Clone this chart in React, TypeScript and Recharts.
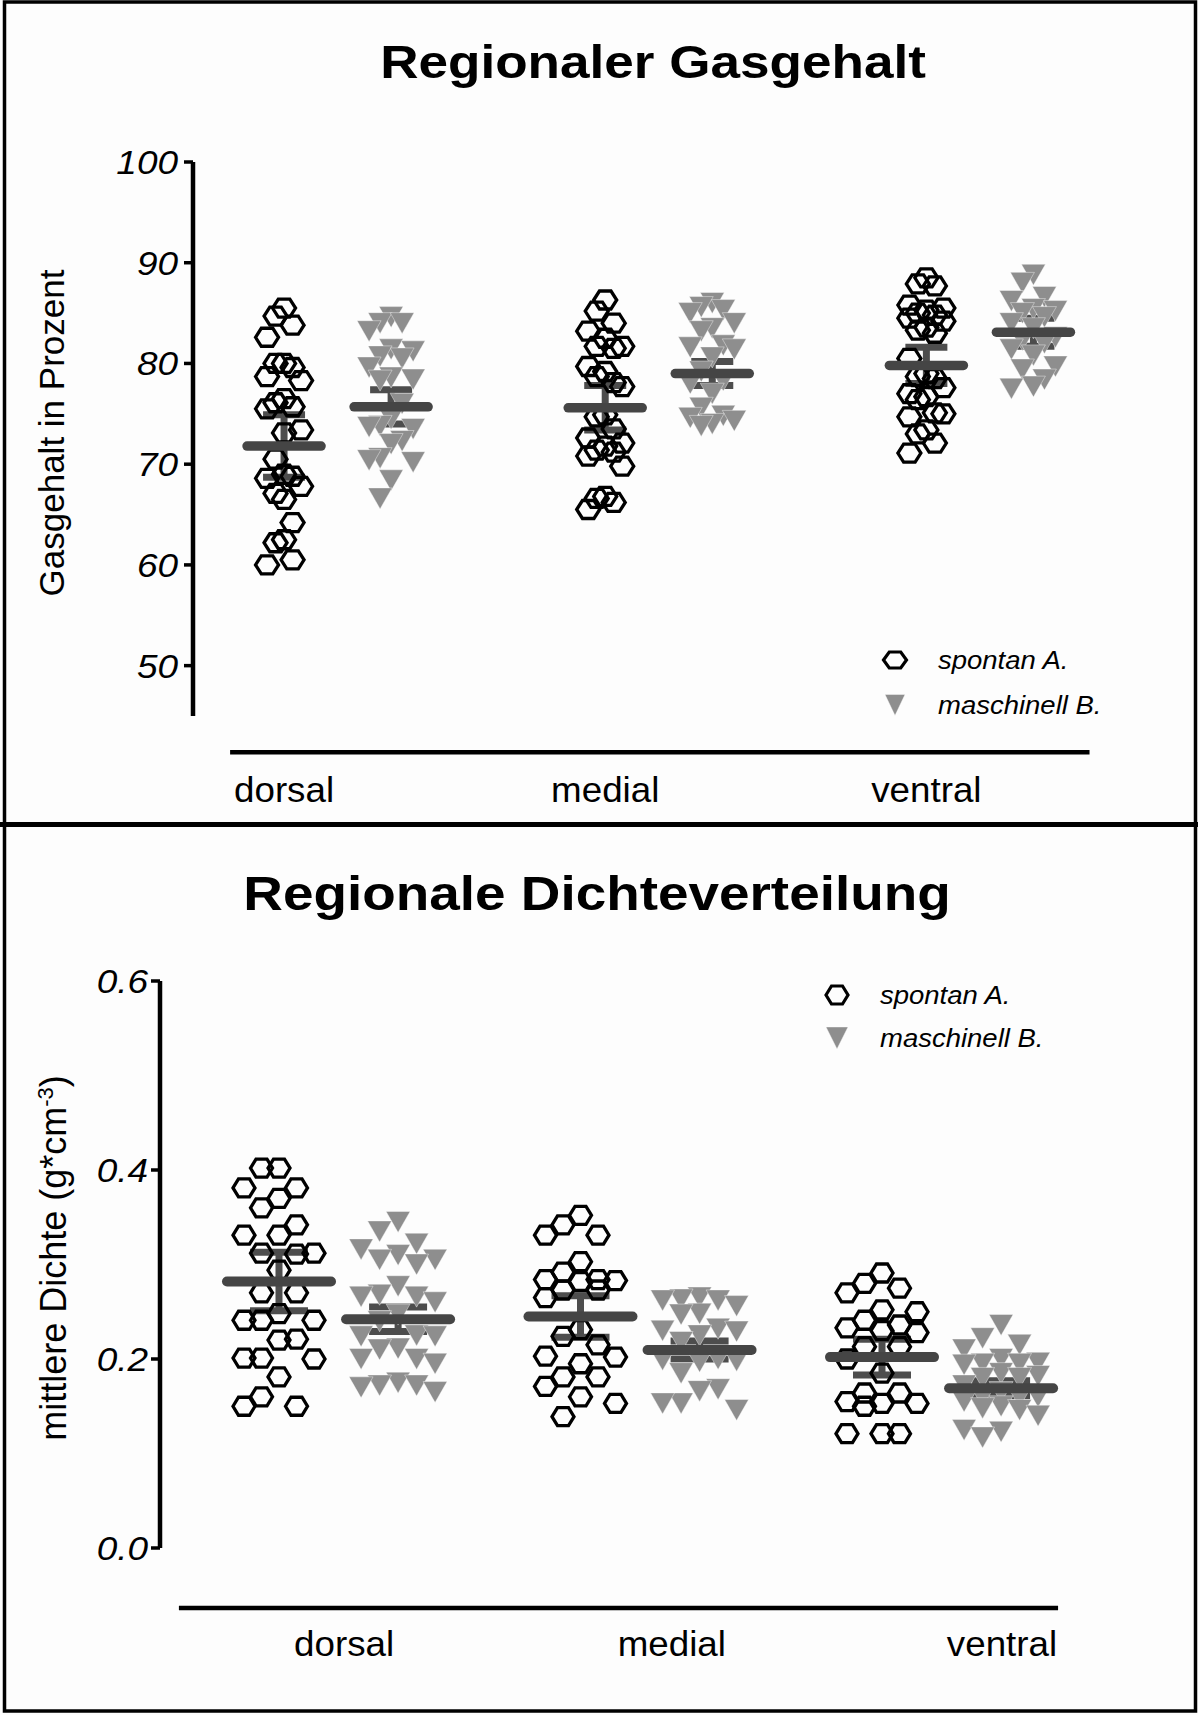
import React from 'react';
import { ScatterChart, Scatter, XAxis, YAxis, ErrorBar, ReferenceLine, Legend } from 'recharts';

const FONT = "'Liberation Sans', Arial, Helvetica, sans-serif";

// ---------------- data ----------------
const regions = ['dorsal', 'medial', 'ventral'];
const seriesNames = ['spontan A.', 'maschinell B.'];

const gasTicks = [50, 60, 70, 80, 90, 100];
const gasLabelPos = [0, 1, 2];

const gasSpontanDorsal = [85.5, 84.7, 83.8, 82.6, 80.0, 80.0, 79.6, 78.7, 78.3, 76.5, 76.1, 75.7, 75.5, 73.4, 73.1, 70.5, 69.0, 68.8, 68.6, 67.8, 67.1, 66.5, 64.2, 62.5, 62.2, 60.5, 60.0];
const gasSpontanMedial = [86.3, 85.2, 84.0, 83.2, 82.5, 81.7, 81.7, 81.5, 79.7, 79.2, 78.7, 78.1, 77.7, 74.9, 74.7, 73.5, 72.6, 72.1, 71.8, 71.4, 71.2, 70.8, 69.8, 66.8, 66.6, 66.2, 65.5];
const gasSpontanVentral = [88.5, 87.9, 87.7, 85.8, 85.5, 85.3, 85.0, 84.8, 84.5, 84.2, 83.6, 83.3, 83.0, 80.5, 79.0, 78.7, 78.5, 77.6, 77.0, 76.7, 76.4, 75.1, 75.0, 74.7, 73.4, 73.0, 72.1, 71.1];
const gasMaschDorsal = [84.6, 84.0, 84.0, 83.2, 81.4, 81.2, 80.7, 80.5, 79.6, 78.6, 78.4, 78.3, 76.0, 74.5, 73.8, 73.7, 73.5, 72.3, 72.0, 70.6, 70.4, 70.2, 68.4, 66.6];
const gasMaschMedial = [86.0, 85.6, 85.3, 85.0, 84.0, 83.5, 83.2, 81.8, 81.6, 81.4, 80.6, 79.2, 78.3, 78.0, 77.0, 75.6, 74.8, 74.6, 74.3, 74.0, 73.8];
const gasMaschVentral = [88.8, 88.0, 86.6, 86.2, 85.4, 85.2, 85.0, 84.6, 84.0, 83.5, 82.6, 82.3, 82.0, 81.4, 80.8, 79.7, 79.4, 78.4, 77.7, 77.5];
const gasSpontanMean = [71.8, 75.6, 79.8];
const gasSpontanErr = [3.1, 2.2, 1.8];
const gasMaschMean = [75.7, 79.0, 83.1];
const gasMaschErr = [1.7, 1.2, 1.4];

const densTicks = [0, 0.2, 0.4, 0.6];
const densLabelPos = [0.216, 1.303, 2.398];

const densSpontanDorsal = [0.402, 0.402, 0.381, 0.381, 0.370, 0.360, 0.342, 0.331, 0.331, 0.312, 0.312, 0.311, 0.294, 0.270, 0.270, 0.248, 0.241, 0.241, 0.241, 0.221, 0.220, 0.201, 0.201, 0.200, 0.181, 0.160, 0.150, 0.150];
const densSpontanMedial = [0.352, 0.342, 0.331, 0.331, 0.303, 0.292, 0.284, 0.284, 0.283, 0.282, 0.273, 0.273, 0.265, 0.231, 0.224, 0.215, 0.203, 0.202, 0.195, 0.181, 0.181, 0.171, 0.160, 0.153, 0.139];
const densSpontanVentral = [0.291, 0.280, 0.275, 0.270, 0.252, 0.250, 0.241, 0.236, 0.233, 0.230, 0.228, 0.213, 0.213, 0.200, 0.185, 0.164, 0.164, 0.155, 0.153, 0.153, 0.150, 0.121, 0.121, 0.121];
const densMaschDorsal = [0.345, 0.335, 0.322, 0.316, 0.310, 0.305, 0.305, 0.300, 0.277, 0.268, 0.266, 0.266, 0.260, 0.247, 0.240, 0.225, 0.224, 0.224, 0.211, 0.210, 0.200, 0.200, 0.195, 0.175, 0.172, 0.172, 0.170, 0.165];
const densMaschMedial = [0.265, 0.263, 0.262, 0.262, 0.256, 0.248, 0.247, 0.232, 0.230, 0.229, 0.225, 0.218, 0.200, 0.199, 0.198, 0.197, 0.185, 0.168, 0.166, 0.153, 0.153, 0.146];
const densMaschVentral = [0.236, 0.222, 0.215, 0.210, 0.200, 0.196, 0.195, 0.195, 0.194, 0.185, 0.182, 0.180, 0.180, 0.172, 0.165, 0.160, 0.160, 0.160, 0.155, 0.150, 0.148, 0.146, 0.140, 0.125, 0.123, 0.117];
const densSpontanMean = [0.282, 0.245, 0.202];
const densSpontanErr = [0.031, 0.022, 0.019];
const densMaschMean = [0.242, 0.2095, 0.169];
const densMaschErr = [0.013, 0.0095, 0.008];

// ---------------- helpers ----------------
type Pt = { x: number; y: number; err?: number };

// deterministic column-scatter layout (slot based, like a beeswarm)
function swarm(values: number[], unitPxY: number, stepPx: number, minGapPx: number, slots: number): number[] {
  const order: number[] = [0];
  for (let k = 1; k <= slots; k++) order.push(-k, k);
  const placed: { s: number; p: number }[] = [];
  return values.map((v) => {
    const p = v * unitPxY;
    let best = 0;
    let bestGap = -1;
    for (const s of order) {
      let gap = Infinity;
      for (const q of placed) if (q.s === s) gap = Math.min(gap, Math.abs(q.p - p));
      if (gap >= minGapPx) {
        best = s;
        break;
      }
      if (gap > bestGap) {
        bestGap = gap;
        best = s;
      }
    }
    placed.push({ s: best, p });
    return best * stepPx;
  });
}

function column(values: number[], group: number, shift: number, unitPxY: number, unitPxX: number, stepPx: number, gapPx: number): Pt[] {
  const offs = swarm(values, unitPxY, stepPx, gapPx, 2);
  return values.map((v, i) => ({ x: group + shift + offs[i] / unitPxX, y: v }));
}

function means(m: number[], e: number[], shift: number): Pt[] {
  return m.map((v, i) => ({ x: i + shift, y: v, err: e[i] }));
}

const hexShape = (w: number, h: number, sw: number) => (props: any) => {
  const { cx, cy } = props;
  if (cx == null || cy == null) return <g />;
  const a = w / 2, b = h / 2, c = w / 4;
  const pts = `${cx - a},${cy} ${cx - c},${cy - b} ${cx + c},${cy - b} ${cx + a},${cy} ${cx + c},${cy + b} ${cx - c},${cy + b}`;
  return <polygon points={pts} fill="none" stroke="#000" strokeWidth={sw} />;
};

const triShape = (w: number, h: number) => (props: any) => {
  const { cx, cy } = props;
  if (cx == null || cy == null) return <g />;
  const pts = `${cx - w / 2},${cy - h / 2} ${cx + w / 2},${cy - h / 2} ${cx},${cy + h / 2}`;
  return <polygon points={pts} fill="#8e8e8e" stroke="#ffffff" strokeOpacity={0.5} strokeWidth={0.8} />;
};

const meanShape = (half: number, sw: number) => (props: any) => {
  const { cx, cy } = props;
  if (cx == null || cy == null) return <g />;
  return <line x1={cx - half} x2={cx + half} y1={cy} y2={cy} stroke="#454545" strokeWidth={sw} strokeLinecap="round" />;
};

const makeYTick = (fmt: (v: number) => string, fs: number, sx: number) => (props: any) => {
  const { x, y, payload } = props;
  return (
    <text transform={`translate(${x} ${y}) scale(${sx} 1)`} textAnchor="end" dy="0.36em" fontFamily={FONT} fontStyle="italic" fontSize={fs} fill="#000">
      {fmt(payload.value)}
    </text>
  );
};

const makeXTick = (labels: string[], dy: number, fs: number, sx: number) => (props: any) => {
  const { x, y, index } = props;
  return (
    <text transform={`translate(${x} ${y + dy}) scale(${sx} 1)`} textAnchor="middle" fontFamily={FONT} fontSize={fs} fill="#000">
      {labels[index]}
    </text>
  );
};

const makeLegend = (hexW: number, hexH: number, triW: number, triH: number, row2: number, textX: number, fs: number) => () => (
  <svg width={300} height={100} style={{ overflow: 'visible' }}>
    {hexShape(hexW, hexH, 3.2)({ cx: 25, cy: 25 })}
    {triShape(triW, triH)({ cx: 25, cy: 25 + row2 })}
    <text transform={`translate(${textX} ${25 + fs * 0.36}) scale(1.1 1)`} fontFamily={FONT} fontStyle="italic" fontSize={fs} fill="#000">{seriesNames[0]}</text>
    <text transform={`translate(${textX} ${25 + row2 + fs * 0.36}) scale(1.1 1)`} fontFamily={FONT} fontStyle="italic" fontSize={fs} fill="#000">{seriesNames[1]}</text>
  </svg>
);

// ---------------- top chart ----------------
const GY = 10.08; // px per % (layout of top panel)
const GX = 321;
const gasDomainX: [number, number] = [-0.2835, 2.6994];
const gasSpontanPts = [
  ...column(gasSpontanDorsal, 0, 0, GY, GX, 8.5, 34),
  ...column(gasSpontanMedial, 1, 0, GY, GX, 8.5, 34),
  ...column(gasSpontanVentral, 2, 0, GY, GX, 8.5, 34),
];
const gasMaschPts = [
  ...column(gasMaschDorsal, 0, 1 / 3, GY, GX, 11, 30),
  ...column(gasMaschMedial, 1, 1 / 3, GY, GX, 11, 30),
  ...column(gasMaschVentral, 2, 1 / 3, GY, GX, 11, 30),
];

function GasChart() {
  return (
    <ScatterChart width={1198} height={830} margin={{ top: 162, right: 47, bottom: 24, left: 0 }}>
      <XAxis type="number" dataKey="x" domain={gasDomainX} allowDataOverflow ticks={gasLabelPos} interval={0}
        height={90} tickSize={0} tickMargin={0} axisLine={false} tickLine={false} tick={makeXTick(regions, 86, 35, 1.05)} />
      <YAxis type="number" dataKey="y" domain={[45, 100]} allowDataOverflow ticks={gasTicks} interval={0} width={193}
        tickSize={9} tickMargin={6} axisLine={{ stroke: '#000', strokeWidth: 4.5 }} tickLine={{ stroke: '#000', strokeWidth: 3.5 }}
        tick={makeYTick((v) => String(v), 33, 1.12)} />
      <ReferenceLine segment={[{ x: gasDomainX[0], y: 45 }, { x: gasDomainX[0], y: 100 }]} ifOverflow="visible" stroke="#000" strokeWidth={4} />
      <ReferenceLine segment={[{ x: -0.168, y: 41.4 }, { x: 2.508, y: 41.4 }]} ifOverflow="visible" stroke="#000" strokeWidth={4.5} />
      <Scatter name={seriesNames[0]} data={gasSpontanPts} shape={hexShape(23, 18, 3.3)} isAnimationActive={false} />
      <Scatter name={seriesNames[1]} data={gasMaschPts} shape={triShape(24, 21)} isAnimationActive={false} />
      <Scatter data={means(gasSpontanMean, gasSpontanErr, 0)} shape={meanShape(37, 9.5)} legendType="none" isAnimationActive={false}>
        <ErrorBar dataKey="err" direction="y" width={21} stroke="#4d4d4d" strokeWidth={7} isAnimationActive={false} />
      </Scatter>
      <Scatter data={means(gasMaschMean, gasMaschErr, 1 / 3)} shape={meanShape(37, 9.5)} legendType="none" isAnimationActive={false}>
        <ErrorBar dataKey="err" direction="y" width={21} stroke="#4d4d4d" strokeWidth={7} isAnimationActive={false} />
      </Scatter>
      <Legend layout="horizontal" align="center" verticalAlign="middle"
        wrapperStyle={{ left: 870, top: 635, width: 300, height: 100 }}
        content={makeLegend(23, 16, 20, 21, 45, 68, 25)} />
    </ScatterChart>
  );
}

// ---------------- bottom chart ----------------
const DY = 945; // px per g/cm3
const DX = 301.5;
const densDomainX: [number, number] = [-0.3947, 2.8889];
const densSpontanPts = [
  ...column(densSpontanDorsal, 0, 0, DY, DX, 17.5, 30),
  ...column(densSpontanMedial, 1, 0, DY, DX, 17.5, 30),
  ...column(densSpontanVentral, 2, 0, DY, DX, 17.5, 30),
];
const densMaschPts = [
  ...column(densMaschDorsal, 0, 0.395, DY, DX, 18.5, 28),
  ...column(densMaschMedial, 1, 0.395, DY, DX, 18.5, 28),
  ...column(densMaschVentral, 2, 0.395, DY, DX, 18.5, 28),
];

function DensChart() {
  return (
    <ScatterChart width={1198} height={885} margin={{ top: 151, right: 48, bottom: 67, left: 0 }}>
      <XAxis type="number" dataKey="x" domain={densDomainX} allowDataOverflow ticks={densLabelPos} interval={0}
        height={100} tickSize={0} tickMargin={0} axisLine={false} tickLine={false} tick={makeXTick(regions, 108, 35, 1.05)} />
      <YAxis type="number" dataKey="y" domain={[0, 0.6]} allowDataOverflow ticks={densTicks} interval={0} width={160}
        tickSize={9} tickMargin={3} axisLine={{ stroke: '#000', strokeWidth: 4.5 }} tickLine={{ stroke: '#000', strokeWidth: 3.5 }}
        tick={makeYTick((v) => v.toFixed(1), 33, 1.12)} />
      <ReferenceLine segment={[{ x: densDomainX[0], y: 0 }, { x: densDomainX[0], y: 0.6 }]} ifOverflow="visible" stroke="#000" strokeWidth={4} />
      <ReferenceLine segment={[{ x: -0.332, y: -0.0635 }, { x: 2.584, y: -0.0635 }]} ifOverflow="visible" stroke="#000" strokeWidth={4.5} />
      <Scatter name={seriesNames[0]} data={densSpontanPts} shape={hexShape(22, 18, 3.3)} isAnimationActive={false} />
      <Scatter name={seriesNames[1]} data={densMaschPts} shape={triShape(24, 21)} isAnimationActive={false} />
      <Scatter data={means(densSpontanMean, densSpontanErr, 0)} shape={meanShape(52, 10)} legendType="none" isAnimationActive={false}>
        <ErrorBar dataKey="err" direction="y" width={29} stroke="#4d4d4d" strokeWidth={7} isAnimationActive={false} />
      </Scatter>
      <Scatter data={means(densMaschMean, densMaschErr, 0.395)} shape={meanShape(52, 10)} legendType="none" isAnimationActive={false}>
        <ErrorBar dataKey="err" direction="y" width={29} stroke="#4d4d4d" strokeWidth={7} isAnimationActive={false} />
      </Scatter>
      <Legend layout="horizontal" align="center" verticalAlign="middle"
        wrapperStyle={{ left: 812, top: 140, width: 300, height: 100 }}
        content={makeLegend(22, 18, 22, 22, 43, 68, 25)} />
    </ScatterChart>
  );
}

export default function App() {
  return (
    <div style={{ position: 'absolute', left: 0, top: 0, width: 1198, height: 1715, background: '#fdfdfd', overflow: 'hidden' }}>
      <div style={{ position: 'absolute', left: 0, top: 0 }}>
        <GasChart />
      </div>
      <div style={{ position: 'absolute', left: 0, top: 830 }}>
        <DensChart />
      </div>
      <svg width={1198} height={1715} style={{ position: 'absolute', left: 0, top: 0, pointerEvents: 'none' }}>
        <rect x={4.5} y={2} width={1191} height={1709} fill="none" stroke="#000" strokeWidth={3.5} />
        <line x1={0} x2={1198} y1={824.5} y2={824.5} stroke="#000" strokeWidth={5} />
        <text transform="translate(653 78) scale(1.13 1)" textAnchor="middle" fontFamily={FONT} fontWeight="bold" fontSize={47} fill="#000">
          Regionaler Gasgehalt
        </text>
        <text transform="translate(597 910) scale(1.12 1)" textAnchor="middle" fontFamily={FONT} fontWeight="bold" fontSize={49} fill="#000">
          Regionale Dichteverteilung
        </text>
        <text transform="translate(64 433) rotate(-90)" textAnchor="middle" fontFamily={FONT} fontSize={35} fill="#000">
          Gasgehalt in Prozent
        </text>
        <text transform="translate(66 1258) rotate(-90)" textAnchor="middle" fontFamily={FONT} fontSize={36} fill="#000">
          mittlere Dichte (g*cm<tspan dy={-13} fontSize={22}>-3</tspan><tspan dy={13}>)</tspan>
        </text>
      </svg>
    </div>
  );
}
